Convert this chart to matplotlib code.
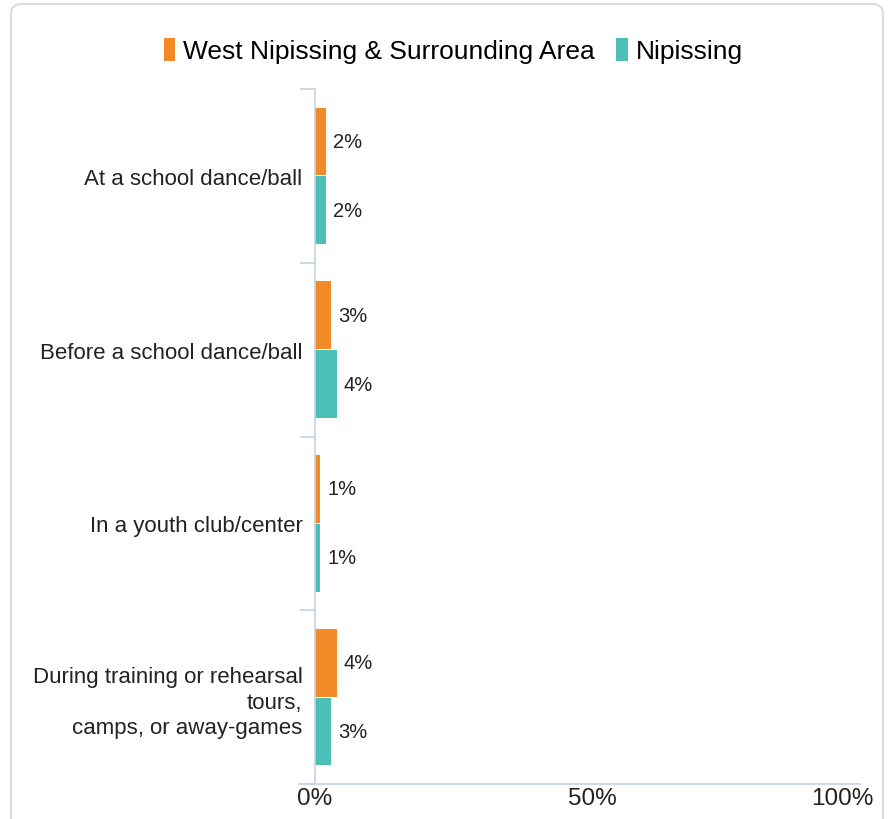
import matplotlib.pyplot as plt
import matplotlib.transforms as mtransforms
from matplotlib.patches import FancyBboxPatch
import numpy as np

plt.rcParams['font.family'] = ['Liberation Sans', 'DejaVu Sans']

categories = ["At a school dance/ball", "Before a school dance/ball",
              "In a youth club/center",
              "During training or rehearsal\ntours,\ncamps, or away-games"]
west = [2, 3, 1, 4]
nipissing = [2, 4, 1, 3]
series_names = ["West Nipissing & Surrounding Area", "Nipissing"]
colors = ["#f28a27", "#4cbfb6"]
axis_color = "#c5d3e3"

fig = plt.figure(figsize=(8.89, 8.2), dpi=100)
fig.patches.append(FancyBboxPatch((11 / 889, -0.05), 872 / 889, 1.044,
                                  boxstyle="round,pad=0,rounding_size=0.012",
                                  transform=fig.transFigure, facecolor="white",
                                  edgecolor="#d6d6d6", linewidth=1.2, zorder=-1))
ax = fig.add_axes([315 / 889, 1 - 785 / 820, 545 / 889, 695 / 820])

y = np.arange(len(categories))
h = 0.39
b1 = ax.barh(y - h / 2 - 0.003, west, height=h, color=colors[0], label=series_names[0])
b2 = ax.barh(y + h / 2 + 0.003, nipissing, height=h, color=colors[1], label=series_names[1])
for bars, vals in ((b1, west), (b2, nipissing)):
    for bar, v in zip(bars, vals):
        ax.text(v + 1.3, bar.get_y() + bar.get_height() / 2, f"{v}%",
                va="center", ha="left", fontsize=14.5, color="#222222")

ax.set_xlim(0, 100)
ax.set_ylim(len(categories) - 0.5, -0.5)
ax.set_xticks([0, 50, 100])
ax.set_xticklabels(["0%", "50%", "100%"], fontsize=17.5, color="#222222")
ax.tick_params(axis="x", length=0, pad=2)
# last label is pulled inside the chart, like the original
last = ax.get_xticklabels()[-1]
last.set_transform(last.get_transform() + mtransforms.ScaledTranslation(-0.18, 0, fig.dpi_scale_trans))
mid = ax.get_xticklabels()[1]
mid.set_transform(mid.get_transform() + mtransforms.ScaledTranslation(0.05, 0, fig.dpi_scale_trans))

ax.set_yticks(y)
ax.set_yticklabels(categories, fontsize=16, color="#222222", ha="right",
                   linespacing=1.3)
ax.tick_params(axis="y", length=0, pad=9)
ax.set_yticks(np.arange(len(categories) + 1) - 0.5, minor=True)
ax.tick_params(axis="y", which="minor", length=11, color=axis_color, width=1.2)

for s in ("top", "right"):
    ax.spines[s].set_visible(False)
ax.spines["left"].set_color(axis_color)
ax.spines["bottom"].set_color(axis_color)
ax.spines["left"].set_linewidth(1.2)
ax.spines["bottom"].set_linewidth(1.2)
ax.spines["bottom"].set_bounds(-3, 100)

fig.legend(loc="upper center", bbox_to_anchor=(0.51, 0.982), ncol=2, frameon=False,
           fontsize=19, handlelength=0.45, handleheight=1.0, handletextpad=0.3,
           columnspacing=0.8)

fig.savefig("out.png", dpi=100)
